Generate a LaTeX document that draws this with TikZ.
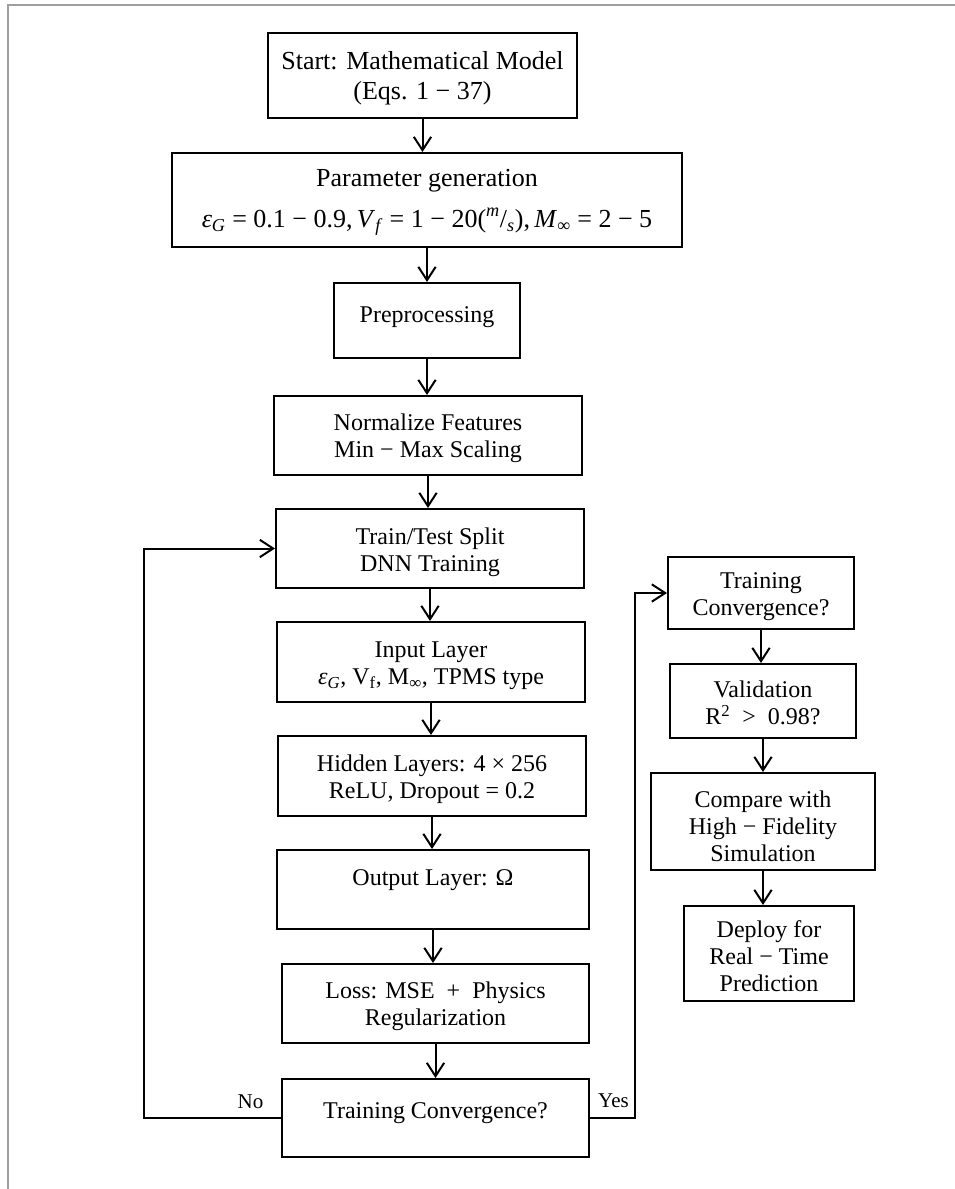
\documentclass[tikz,border=0pt]{standalone}
\usepackage{fontspec}
\setmainfont{Liberation Serif}
\usetikzlibrary{arrows.meta}
\newcommand{\epsG}{\textit{ε}\textsubscript{\textit{G}}}
\begin{document}
\begin{tikzpicture}[x=0.75pt,y=-0.75pt,
  box/.style={draw=black, line width=1.5pt, inner sep=0pt},
  bx/.style 2 args={box, minimum width=#1*0.75pt, minimum height=#2*0.75pt},
  txt/.style={font=\fontsize{18}{20.25}\selectfont, align=center, inner sep=0pt},
  big/.style={font=\fontsize{19.5}{22.5}\selectfont},
  lbl/.style={font=\fontsize{15.75}{18}\selectfont, inner sep=0pt, anchor=base},
  arr/.style={line width=1.5pt, -{Straight Barb[length=10pt,width=13pt,line width=1.5pt]}},
  frame/.style={draw=gray!75, line width=0.8pt}
]
\useasboundingbox (0,0) rectangle (955,1189);
\draw[frame] (8,1189) -- (8,5) -- (955,5);

% boxes
\node[bx={309}{85}] (start) at (422.5,75.5) {};
\node[bx={510}{94}] (param) at (427,200) {};
\node[bx={186}{75}] (pre) at (427,320.5) {};
\node[bx={308}{79}] (norm) at (428,435.5) {};
\node[bx={308}{79}] (train) at (430,548.5) {};
\node[bx={308}{80}] (input) at (431,662) {};
\node[bx={308}{80}] (hidden) at (432,776) {};
\node[bx={312}{79}] (output) at (433,889.5) {};
\node[bx={307}{79}] (loss) at (435.5,1003.5) {};
\node[bx={307}{78}] (tc1) at (435.5,1118) {};
\node[bx={186}{72}] (tc2) at (761,593) {};
\node[bx={186}{74}] (val) at (763,701) {};
\node[bx={224}{97}] (cmp) at (763,821.5) {};
\node[bx={170}{95}] (dep) at (769,953.5) {};

% texts
\node[txt,big] (start-t) at (422.5,78) {Start: Mathematical Model\\(Eqs. 1 − 37)};
\node[txt,big,anchor=base] (param-t1) at (427,186) {Parameter generation};
\node[txt,big,anchor=base] (param-t2) at (427,227) {\epsG\ = 0.1 − 0.9,\,\textit{V}\textsubscript{\textit{f}} = 1 − 20(\textsuperscript{\textit{m}}/\textsubscript{\textit{s}}),\,\textit{M}\textsubscript{∞} = 2 − 5};
\node[txt,anchor=base] (pre-t) at (427,322) {Preprocessing};
\node[txt] (norm-t) at (428,438) {Normalize Features\\Min − Max Scaling};
\node[txt] (train-t) at (430,552.5) {Train/Test Split\\DNN Training};
\node[txt] (input-t) at (431,666) {Input Layer\\\epsG, V\textsubscript{f}, M\textsubscript{∞}, TPMS type};
\node[txt] (hidden-t) at (432,779) {Hidden Layers: 4 × 256\\ReLU, Dropout = 0.2};
\node[txt,anchor=base] (output-t) at (433,885) {Output Layer: Ω};
\node[txt] (loss-t) at (435.5,1006.5) {Loss: MSE\enspace+\enspace Physics\\Regularization};
\node[txt,anchor=base] (tc1-t) at (435.5,1118) {Training Convergence?};
\node[txt] (tc2-t) at (761,597) {Training\\Convergence?};
\node[txt] (val-t) at (763,703) {Validation\\R\textsuperscript{2}\enspace>\enspace0.98?};
\node[txt] (cmp-t) at (763,826) {Compare with\\High − Fidelity\\Simulation};
\node[txt] (dep-t) at (769,956.5) {Deploy for\\Real − Time\\Prediction};
\node[lbl] (no) at (250.5,1108) {No};
\node[lbl] (yes) at (613.5,1107) {Yes};

% connectors
\draw[arr] (start.south) -- (start.south |- param.north);
\draw[arr] (param.south) -- (param.south |- pre.north);
\draw[arr] (pre.south) -- (pre.south |- norm.north);
\draw[arr] (norm.south) -- (norm.south |- train.north);
\draw[arr] (train.south) -- (train.south |- input.north);
\draw[arr] (input.south) -- (input.south |- hidden.north);
\draw[arr] (hidden.south) -- (hidden.south |- output.north);
\draw[arr] (output.south) -- (output.south |- loss.north);
\draw[arr] (loss.south) -- (loss.south |- tc1.north);
\draw[arr] (tc2.south) -- (tc2.south |- val.north);
\draw[arr] (val.south) -- (val.south |- cmp.north);
\draw[arr] (cmp.south) -- (cmp.south |- dep.north);

\coordinate (fbx) at (144,0);
\coordinate (yesx) at (635,0);
\draw[arr] (tc1.west) -- (tc1.west -| fbx) -- (train.west -| fbx) -- (train.west);
\draw[arr] (tc1.east) -- (tc1.east -| yesx) -- (tc2.west -| yesx) -- (tc2.west);
\end{tikzpicture}
\end{document}
